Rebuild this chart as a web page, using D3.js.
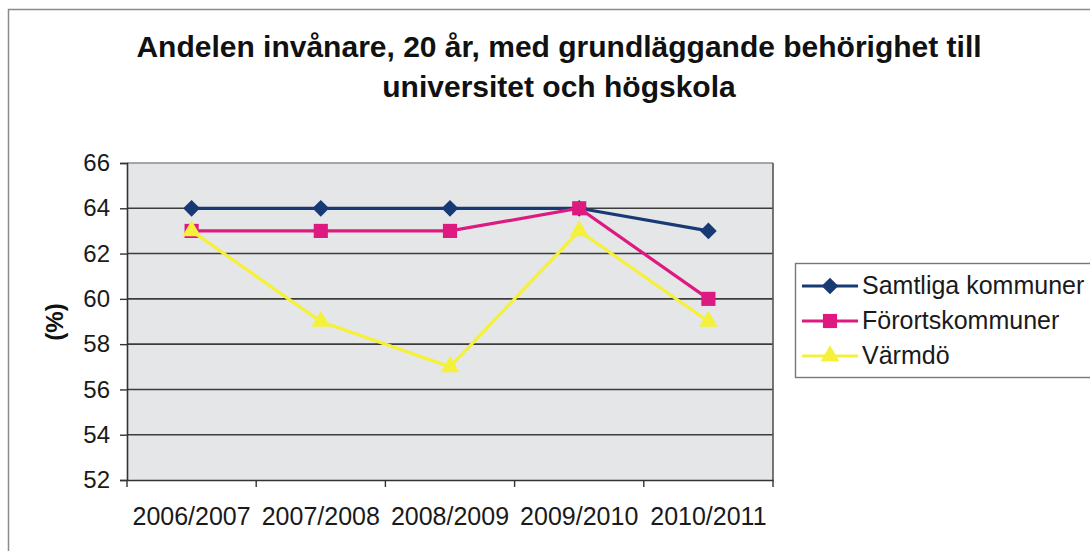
<!DOCTYPE html>
<meta charset="utf-8">
<style>
body { margin: 0; background: #fff; }
svg { display: block; font-family: "Liberation Sans", Arial, sans-serif; }
</style>
<body>
<svg id="chart" width="1090" height="551"></svg>
<script src="https://cdn.jsdelivr.net/npm/d3@7"></script>
<script>

// data
var categories = ["2006/2007", "2007/2008", "2008/2009", "2009/2010", "2010/2011"];
var samtliga = [64, 64, 64, 64, 63];
var fororts = [63, 63, 63, 64, 60];
var varmdo = [63, 59, 57, 63, 59];
var yTicks = [52, 54, 56, 58, 60, 62, 64, 66];

// rotate = 45 turns the square into the Excel-style diamond
var series = [
  { name: "Samtliga kommuner", values: samtliga, color: "#183a74", shape: d3.symbolSquare, size: 140, rotate: 45 },
  { name: "Förortskommuner", values: fororts, color: "#de1a80", shape: d3.symbolSquare, size: 200, rotate: 0 },
  { name: "Värmdö", values: varmdo, color: "#f5f03a", shape: d3.symbolTriangle, size: 150, rotate: 0 }
];

var svg = d3.select("#chart");

// outer frame
svg.append("rect")
    .attr("x", 8.5).attr("y", 9.5)
    .attr("width", 1100).attr("height", 560)
    .attr("fill", "none").attr("stroke", "#8a8a8a").attr("stroke-width", 1.5);

var plotL = 127, plotR = 773, plotT = 163, plotB = 480;

var x = d3.scaleBand().domain(categories).range([plotL, plotR]);
var y = d3.scaleLinear().domain([52, 66]).range([plotB, plotT]);

// plot background
svg.append("rect")
    .attr("x", plotL).attr("y", plotT)
    .attr("width", plotR - plotL).attr("height", plotB - plotT)
    .attr("fill", "#e5e6e8");

// gridlines
svg.append("g")
  .selectAll("line")
  .data(yTicks.slice(1))
  .join("line")
    .attr("x1", plotL).attr("x2", plotR)
    .attr("y1", function(d) { return y(d); })
    .attr("y2", function(d) { return y(d); })
    .attr("stroke", function(d) { return d == 66 ? "#8c8c8c" : "#3c3c3c"; })
    .attr("stroke-width", 1.6);

// right border of plot
svg.append("line")
    .attr("x1", plotR).attr("x2", plotR)
    .attr("y1", plotT).attr("y2", plotB)
    .attr("stroke", "#555").attr("stroke-width", 1.6);

// y axis
var yAxis = svg.append("g")
    .attr("transform", "translate(" + plotL + ",0)")
    .call(d3.axisLeft(y).tickValues(yTicks).tickSize(7).tickPadding(10));
yAxis.attr("font-size", 24).attr("font-family", "Liberation Sans, Arial, sans-serif");
yAxis.select(".domain").attr("stroke", "#333").attr("stroke-width", 1.6);
yAxis.selectAll(".tick line").attr("stroke", "#333").attr("stroke-width", 1.4);
yAxis.selectAll("text").attr("fill", "#1a1a1a");

// x axis
var xAxis = svg.append("g")
    .attr("transform", "translate(0," + plotB + ")")
    .call(d3.axisBottom(x).tickSize(0).tickPadding(27));
xAxis.attr("font-size", 25).attr("font-family", "Liberation Sans, Arial, sans-serif");
xAxis.select(".domain").attr("stroke", "#333").attr("stroke-width", 1.6);
xAxis.selectAll("text").attr("fill", "#1a1a1a");

// band boundary ticks on x axis
var bounds = categories.map(function(c) { return x(c); }).concat([plotR]);
svg.append("g")
  .selectAll("line")
  .data(bounds)
  .join("line")
    .attr("x1", function(d) { return d; })
    .attr("x2", function(d) { return d; })
    .attr("y1", plotB).attr("y2", plotB + 7)
    .attr("stroke", "#333").attr("stroke-width", 1.4);

var cx = function(d, i) { return x(categories[i]) + x.bandwidth() / 2; };

var line = d3.line()
    .x(function(d, i) { return x(categories[i]) + x.bandwidth() / 2; })
    .y(function(d) { return y(d); });

series.forEach(function(s) {
  svg.append("path")
      .datum(s.values)
      .attr("d", line)
      .attr("fill", "none")
      .attr("stroke", s.color)
      .attr("stroke-width", 3.2);
  svg.append("g")
    .selectAll("path")
    .data(s.values)
    .join("path")
      .attr("transform", function(d, i) {
        return "translate(" + cx(d, i) + "," + y(d) + ") rotate(" + s.rotate + ")";
      })
      .attr("d", d3.symbol().type(s.shape).size(s.size))
      .attr("fill", s.color);
});

// title
var title = svg.append("text")
    .attr("text-anchor", "middle")
    .attr("font-size", 30)
    .attr("font-weight", "bold")
    .attr("fill", "#111");
title.append("tspan").attr("x", 559).attr("y", 57)
    .text("Andelen invånare, 20 år, med grundläggande behörighet till");
title.append("tspan").attr("x", 559).attr("y", 97)
    .text("universitet och högskola");

// y label
svg.append("text")
    .attr("transform", "translate(63,322) rotate(-90)")
    .attr("text-anchor", "middle")
    .attr("font-size", 24)
    .attr("font-weight", "bold")
    .attr("fill", "#111")
    .text("(%)");

// legend
var legend = svg.append("g");
legend.append("rect")
    .attr("x", 795.5).attr("y", 263.5)
    .attr("width", 300).attr("height", 114)
    .attr("fill", "#fff").attr("stroke", "#777").attr("stroke-width", 1.4);

var rows = legend.selectAll("g.row")
  .data(series)
  .join("g")
    .attr("class", "row")
    .attr("transform", function(d, i) { return "translate(0," + (286 + i * 35) + ")"; });
rows.append("line")
    .attr("x1", 802).attr("x2", 858)
    .attr("stroke", function(d) { return d.color; })
    .attr("stroke-width", 3);
rows.append("path")
    .attr("transform", function(d) { return "translate(830,0) rotate(" + d.rotate + ")"; })
    .attr("d", function(d) { return d3.symbol().type(d.shape).size(d.size)(); })
    .attr("fill", function(d) { return d.color; });
rows.append("text")
    .attr("x", 862).attr("y", 8)
    .attr("font-size", 25)
    .attr("fill", "#1a1a1a")
    .text(function(d) { return d.name; });

</script>
</body>
